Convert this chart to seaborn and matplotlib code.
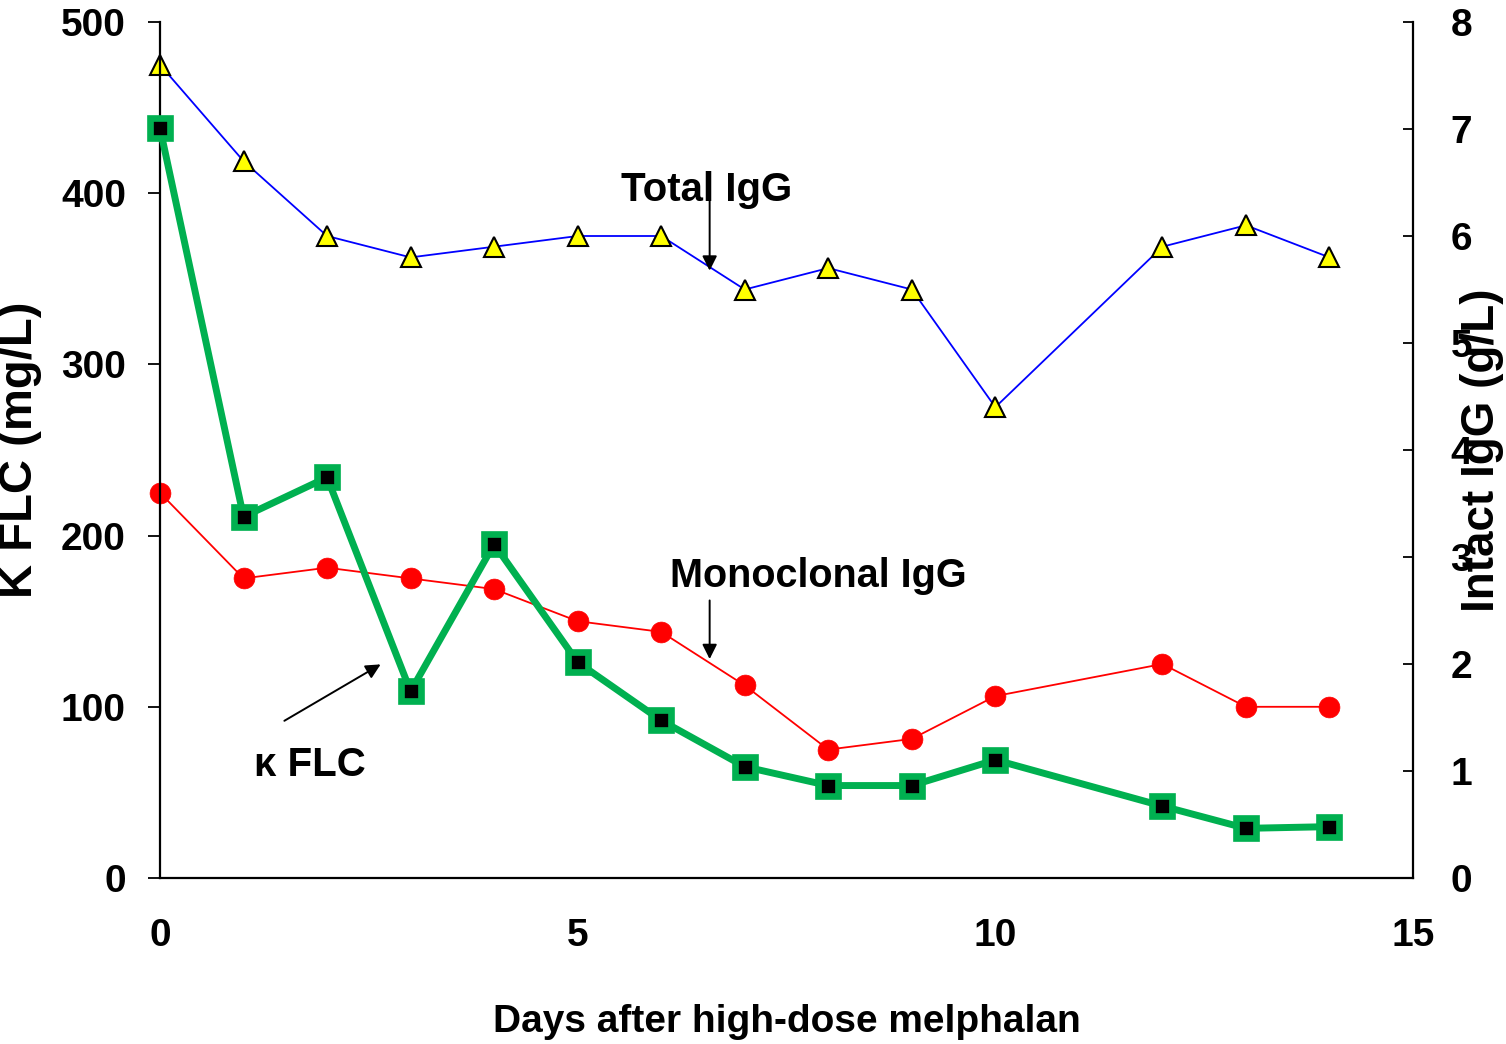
import matplotlib
matplotlib.use("Agg")
import matplotlib.pyplot as plt
import seaborn as sns
import pandas as pd

# ---- data ----
days = [0, 1, 2, 3, 4, 5, 6, 7, 8, 9, 10, 12, 13, 14]
kappa_flc = [438, 211, 234, 109, 195, 126, 92, 65, 54, 54, 69, 42, 29, 30]          # mg/L (left)
total_igg = [7.6, 6.7, 6.0, 5.8, 5.9, 6.0, 6.0, 5.5, 5.7, 5.5, 4.4, 5.9, 6.1, 5.8]  # g/L (right)
mono_igg = [3.6, 2.8, 2.9, 2.8, 2.7, 2.4, 2.3, 1.8, 1.2, 1.3, 1.7, 2.0, 1.6, 1.6]   # g/L (right)
x_ticks = [0, 5, 10, 15]
left_ticks = [0, 100, 200, 300, 400, 500]
right_ticks = [0, 1, 2, 3, 4, 5, 6, 7, 8]

df = pd.DataFrame({"day": days, "flc": kappa_flc, "total": total_igg, "mono": mono_igg})

sns.set_style("white")
FAM = ["Liberation Sans", "DejaVu Sans"]
TICK, LAB = 28, 29
plt.rcParams["font.family"] = FAM
plt.rcParams["font.weight"] = "bold"
for k in ("text.color", "axes.labelcolor", "xtick.color", "ytick.color", "axes.edgecolor"):
    plt.rcParams[k] = "black"

fig = plt.figure(figsize=(15.06, 10.44), dpi=100)
ax = fig.add_axes([160 / 1506, 1 - 878 / 1044, (1413 - 160) / 1506, (878 - 22) / 1044])
ax2 = ax.twinx()

# right-axis series
sns.lineplot(data=df, x="day", y="total", ax=ax2, color="#0000ff", linewidth=1.3,
             marker="^", markersize=15, markerfacecolor="#ffff00", markeredgecolor="black",
             markeredgewidth=1.5, zorder=3, clip_on=False)
sns.lineplot(data=df, x="day", y="mono", ax=ax2, color="#ff0000", linewidth=1.3,
             marker="o", markersize=15, markerfacecolor="#ff0000", markeredgecolor="#ff0000",
             markeredgewidth=0.5, zorder=3, clip_on=False)
# left-axis series
sns.lineplot(data=df, x="day", y="flc", ax=ax, color="#00b050", linewidth=5,
             marker="s", markersize=14, markerfacecolor="black", markeredgecolor="#00b050",
             markeredgewidth=4.8, zorder=4, clip_on=False)
for l in ax.get_lines():
    l.set_solid_joinstyle("round")
    l.set_markeredgewidth(4.8)

ax.set_zorder(ax2.get_zorder() + 1)
ax.patch.set_visible(False)

ax.set_xlim(0, 15)
ax.set_ylim(0, 500)
ax2.set_ylim(0, 8)
ax.set_xticks(x_ticks)
ax.set_yticks(left_ticks)
ax2.set_yticks(right_ticks)

for a in (ax, ax2):
    a.spines["top"].set_visible(False)
    for s in a.spines.values():
        s.set_linewidth(1.6)
        s.set_color("black")
ax.spines["right"].set_visible(False)
ax2.spines["left"].set_visible(False)
ax2.spines["bottom"].set_visible(False)

ax.tick_params(axis="y", direction="out", length=8.5, width=1.3, pad=16, labelsize=TICK, colors="black")
ax.tick_params(axis="x", direction="out", length=8.5, width=1.3, pad=20, labelsize=TICK, colors="black")
ax2.tick_params(axis="y", direction="in", length=7, width=1.3, pad=27, labelsize=TICK, colors="black")
for t in ax.get_xticklabels() + ax.get_yticklabels() + ax2.get_yticklabels():
    t.set_fontweight("bold")

ax.set_xlabel("Days after high-dose melphalan", fontsize=28, fontweight="bold", color="black")
ax.xaxis.label.set_va("center")
ax.xaxis.set_label_coords(0.5, -0.168)
ax.set_ylabel("Κ FLC (mg/L)", fontsize=34, fontweight="bold", color="black")
ax.yaxis.label.set_va("center")
ax.yaxis.set_label_coords(-0.112, 0.5)
ax2.set_ylabel("Intact IgG (g/L)", fontsize=33, fontweight="bold", rotation=90, color="black")
ax2.yaxis.label.set_va("center")
ax2.yaxis.set_label_coords(1.055, 0.5)

arrow = dict(arrowstyle="-|>", color="black", lw=1.4, mutation_scale=22)
# Total IgG
ax2.annotate("", xy=(6.58, 5.65), xytext=(6.58, 6.6), arrowprops=arrow)
ax2.text(6.54, 6.43, "Total IgG", ha="center", va="center", fontsize=LAB, fontweight="bold")
# Monoclonal IgG
ax2.annotate("", xy=(6.58, 2.02), xytext=(6.58, 2.62), arrowprops=arrow)
ax2.text(7.88, 2.82, "Monoclonal IgG", ha="center", va="center", fontsize=28.5, fontweight="bold")
# kappa FLC
ax.annotate("", xy=(2.67, 125.6), xytext=(1.46, 91), arrowprops=arrow)
ax.text(1.80, 66, "κ FLC", ha="center", va="center", fontsize=LAB, fontweight="bold")

fig.savefig("out.png", dpi=100)
